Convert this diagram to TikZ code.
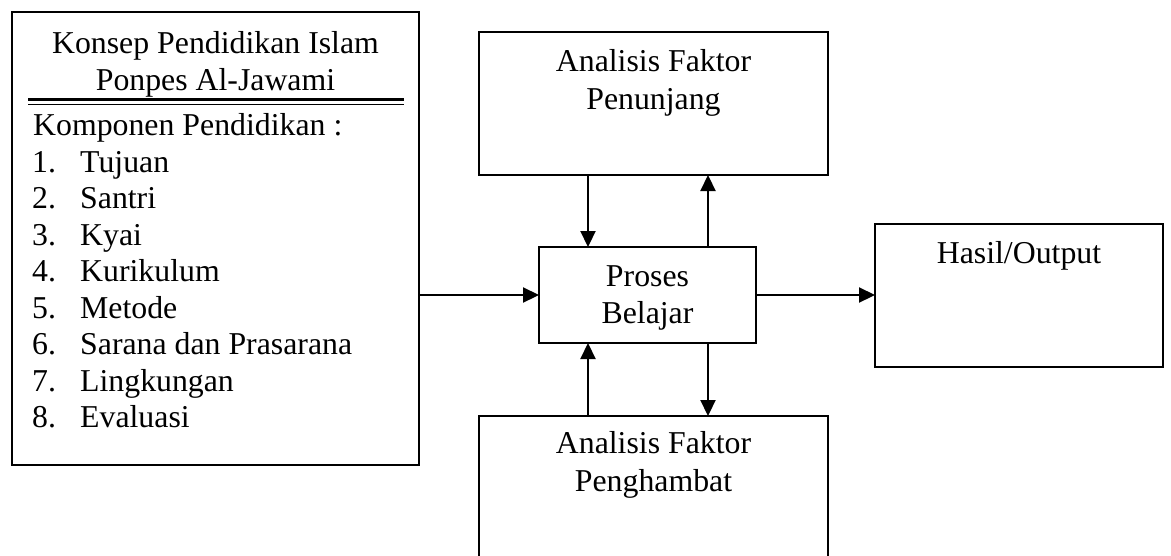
\documentclass[tikz,border=0pt]{standalone}
\usepackage{fontspec}
\setmainfont{Liberation Serif}
\usetikzlibrary{arrows.meta}
\tikzset{
  kotak/.style={draw, line width=2.2pt, rectangle, inner sep=0pt, outer sep=0pt},
  panah/.style={line width=2.2pt, -{Triangle[length=16pt,width=15pt]}},
  teks/.style={anchor=base, inner sep=0pt},
  tekskiri/.style={anchor=base west, inner sep=0pt}
}
\begin{document}
\begin{tikzpicture}[x=1pt, y=-1pt]
                        \useasboundingbox (0,0) rectangle (1171,555);
                        \clip (0,0) rectangle (1171,555);
                        {\fontsize{31.8}{36.6}\selectfont

                        % Drawing box Konsep (left)
                        \draw (215.5,238.5) node [kotak, minimum width=407, minimum height=453] (konsep) {};%
                        \draw (215.5,53) node [teks] (judulA) { Konsep Pendidikan Islam };%
                        \draw (215.5,90) node [teks] (judulB) { Ponpes Al-Jawami };%

                        % Drawing double rule under title
                        \draw [line width=3pt] (28,99) -- (404,99);%
                        \draw [line width=1.5pt] (28,104.5) -- (404,104.5);%

                        % Marking list Komponen Pendidikan
                        \draw (33,135) node [tekskiri] (komponen) { Komponen Pendidikan : };%
                        \draw (32,172) node [tekskiri] (noA) { 1. };%
                        \draw (80,172) node [tekskiri] (itemA) { Tujuan };%
                        \draw (32,208.5) node [tekskiri] (noB) { 2. };%
                        \draw (80,208.5) node [tekskiri] (itemB) { Santri };%
                        \draw (32,245) node [tekskiri] (noC) { 3. };%
                        \draw (80,245) node [tekskiri] (itemC) { Kyai };%
                        \draw (32,281.5) node [tekskiri] (noD) { 4. };%
                        \draw (80,281.5) node [tekskiri] (itemD) { Kurikulum };%
                        \draw (32,318) node [tekskiri] (noE) { 5. };%
                        \draw (80,318) node [tekskiri] (itemE) { Metode };%
                        \draw (32,354.5) node [tekskiri] (noF) { 6. };%
                        \draw (80,354.5) node [tekskiri] (itemF) { Sarana dan Prasarana };%
                        \draw (32,391) node [tekskiri] (noG) { 7. };%
                        \draw (80,391) node [tekskiri] (itemG) { Lingkungan };%
                        \draw (32,427.5) node [tekskiri] (noH) { 8. };%
                        \draw (80,427.5) node [tekskiri] (itemH) { Evaluasi };%

                        % Drawing box Faktor Penunjang (top)
                        \draw (653.5,103.5) node [kotak, minimum width=349, minimum height=143] (penunjang) {};%
                        \draw (653.5,71) node [teks] { Analisis Faktor };%
                        \draw (653.5,109) node [teks] { Penunjang };%

                        % Drawing box Proses Belajar
                        \draw (647.5,295) node [kotak, minimum width=217, minimum height=96] (proses) {};%
                        \draw (647.5,286) node [teks] { Proses };%
                        \draw (647.5,323) node [teks] { Belajar };%

                        % Drawing box Hasil/Output
                        \draw (1019,295.5) node [kotak, minimum width=288, minimum height=143] (hasil) {};%
                        \draw (1019,263) node [teks] { Hasil/Output };%

                        % Drawing box Faktor Penghambat (bottom, runs off the page)
                        \draw (653.5,510) node [kotak, minimum width=349, minimum height=188] (penghambat) {};%
                        \draw (653.5,453) node [teks] { Analisis Faktor };%
                        \draw (653.5,491) node [teks] { Penghambat };%

                        % Columns of the vertical arrows
                        \coordinate (kolA) at (588,0);
                        \coordinate (kolB) at (708,0);

                        % Drawing arrows
                        \draw [panah] (konsep.east |- proses.west) -- (proses.west);%
                        \draw [panah] (proses.east) -- (hasil.west |- proses.east);%
                        \draw [panah] (penunjang.south -| kolA) -- (proses.north -| kolA);%
                        \draw [panah] (proses.north -| kolB) -- (penunjang.south -| kolB);%
                        \draw [panah] (penghambat.north -| kolA) -- (proses.south -| kolA);%
                        \draw [panah] (proses.south -| kolB) -- (penghambat.north -| kolB);%
                        }
\end{tikzpicture}
\end{document}
